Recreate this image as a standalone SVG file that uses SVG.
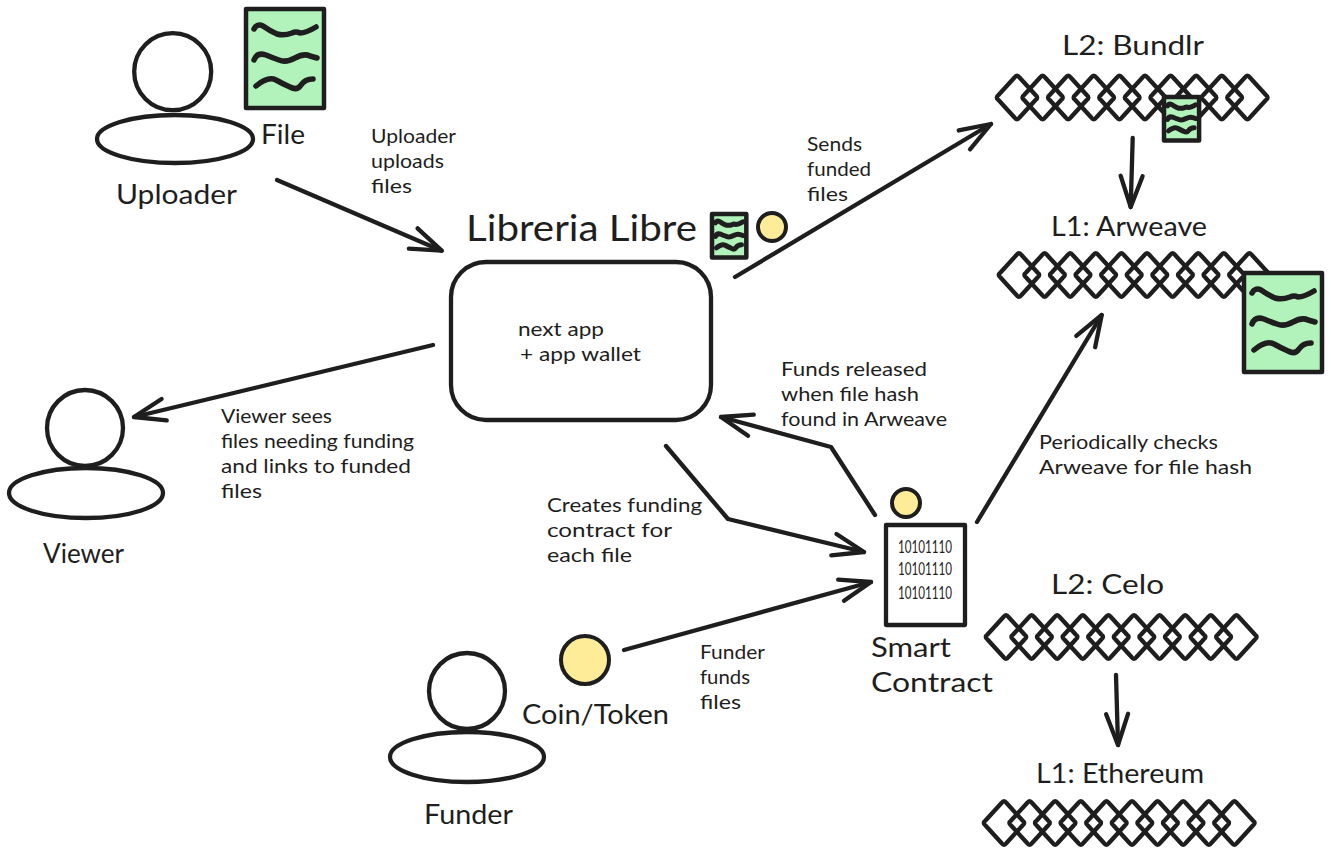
<svg xmlns="http://www.w3.org/2000/svg" width="1331" height="857" viewBox="0 0 1331 857">
<style>
text{font-family:"Lato","Noto Sans",sans-serif;fill:#1e1e1e;transform:translateY(.2px)}
.s{font-size:19px}.m{font-size:27px;transform:translateY(.8px)}.l{font-size:36px}.n{font-size:17px}
.o{fill:none;stroke:#1e1e1e;stroke-width:4.300;stroke-linecap:round;stroke-linejoin:round}
.coin{fill:#ffec99;stroke:#1e1e1e;stroke-width:4}
.page{fill:#b2f2bb;stroke:#1e1e1e;stroke-width:4.500;stroke-linejoin:round;vector-effect:non-scaling-stroke}
.sq{fill:none;stroke:#1e1e1e;stroke-linecap:round;stroke-linejoin:round;vector-effect:non-scaling-stroke}
#connectors path{fill:none;stroke:#1e1e1e;stroke-width:4.300;stroke-linecap:round;stroke-linejoin:round}
</style>
<defs>
<path id="d" class="o" d="M-18.500-2.500 L-2.500-20 Q0-23.500 2.500-20 L18.500-2.500 Q22 0 18.500 2.500 L2.500 20 Q0 23.500-2.500 20 L-18.500 2.500 Q-22 0-18.500-2.500Z"/>
<g id="chain">
<use href="#d" x="0"/><use href="#d" x="25.6"/><use href="#d" x="51.2"/><use href="#d" x="76.8"/><use href="#d" x="102.4"/><use href="#d" x="128"/><use href="#d" x="153.6"/><use href="#d" x="179.2"/><use href="#d" x="204.8"/><use href="#d" x="230.4"/>
</g>
<g id="file">
<rect class="page" width="78" height="99"/>
<path class="sq" d="M8 20Q11 14 17 17Q24 22 31 25Q38 27 46 24Q50 22 54 24Q60 24 70 18"/>
<path class="sq" d="M8 51Q11 43 20 46Q27 49 33 51Q40 54 49 49Q58 44 64 47L71 49"/>
<path class="sq" d="M10 77Q22 67 30 71Q37 75 44 78Q51 82 55 76Q59 70 67 70"/>
</g>
<marker id="head" markerUnits="userSpaceOnUse" markerWidth="40" markerHeight="40" refX="35" refY="20" orient="auto" viewBox="0 0 40 40"><path d="M4 9L35 20L4 31" fill="none" stroke="#1e1e1e" stroke-width="4.300" stroke-linecap="round" stroke-linejoin="round"/></marker>
</defs>

<g id="connectors">
<path marker-end="url(#head)" d="M277 180L441.700 250.700"/>
<path marker-end="url(#head)" d="M735 277L991 124"/>
<path marker-end="url(#head)" d="M1132.700 138L1130.700 207"/>
<path marker-end="url(#head)" d="M977 522L1101.700 315"/>
<path marker-end="url(#head)" d="M433 345L134 417"/>
<path marker-end="url(#head)" d="M875 515L831 447L721 417"/>
<path marker-end="url(#head)" d="M666 446L728 519L864 552"/>
<path marker-end="url(#head)" d="M624 650L871 582"/>
<path marker-end="url(#head)" d="M1116 675L1118 745"/>
</g>

<g id="uploader"><circle class="o" cx="172.700" cy="71.700" r="38.500"/><ellipse class="o" cx="175" cy="139" rx="78" ry="24"/><text class="m" x="116" y="203" textLength="121" lengthAdjust="spacingAndGlyphs">Uploader</text></g>
<g id="file-node"><use href="#file" x="246" y="9" stroke-width="5.500"/><text class="m" x="261" y="143" textLength="44" lengthAdjust="spacingAndGlyphs">File</text></g>
<g id="uploader-label"><text class="s" x="371" y="143" textLength="85" lengthAdjust="spacingAndGlyphs">Uploader</text><text class="s" x="371" y="168" textLength="73" lengthAdjust="spacingAndGlyphs">uploads</text><text class="s" x="371" y="193" textLength="41" lengthAdjust="spacingAndGlyphs">files</text></g>

<g id="libreria"><text class="l" x="466" y="241" textLength="231" lengthAdjust="spacingAndGlyphs">Libreria Libre</text>
<rect class="o" x="451" y="262" width="260" height="158" rx="35"/>
<text class="s" x="518" y="336" textLength="86" lengthAdjust="spacingAndGlyphs">next app</text><text class="s" x="520" y="361" textLength="121" lengthAdjust="spacingAndGlyphs">+ app wallet</text></g>
<g id="libreria-file"><use href="#file" transform="translate(712 214) scale(.44)" stroke-width="5"/></g>
<g id="libreria-coin"><circle class="coin" cx="772" cy="227" r="14"/></g>
<g id="sends-label"><text class="s" x="807" y="151" textLength="55" lengthAdjust="spacingAndGlyphs">Sends</text><text class="s" x="807" y="176" textLength="64" lengthAdjust="spacingAndGlyphs">funded</text><text class="s" x="807" y="201" textLength="41" lengthAdjust="spacingAndGlyphs">files</text></g>

<g id="bundlr"><text class="m" x="1062" y="54" textLength="142" lengthAdjust="spacingAndGlyphs">L2: Bundlr</text><use href="#chain" x="1017" y="97.500"/><use href="#file" transform="translate(1164 97) scale(.45 .44)" stroke-width="5"/></g>
<g id="arweave"><text class="m" x="1051" y="235" textLength="156" lengthAdjust="spacingAndGlyphs">L1: Arweave</text><use href="#chain" x="1019" y="275"/><use href="#file" x="1244" y="273" stroke-width="5.500"/></g>
<g id="celo"><text class="m" x="1051" y="593" textLength="113" lengthAdjust="spacingAndGlyphs">L2: Celo</text><use href="#chain" x="1006" y="637"/></g>
<g id="ethereum"><text class="m" x="1036" y="782" textLength="168" lengthAdjust="spacingAndGlyphs">L1: Ethereum</text><use href="#chain" x="1004" y="823"/></g>

<g id="viewer"><circle class="o" cx="85" cy="428" r="38"/><ellipse class="o" cx="86" cy="493" rx="77" ry="25"/><text class="m" x="43" y="562" textLength="81" lengthAdjust="spacingAndGlyphs">Viewer</text></g>
<g id="viewer-label"><text class="s" x="221" y="423" textLength="111" lengthAdjust="spacingAndGlyphs">Viewer sees</text><text class="s" x="221" y="448" textLength="193" lengthAdjust="spacingAndGlyphs">files needing funding</text><text class="s" x="221" y="473" textLength="190" lengthAdjust="spacingAndGlyphs">and links to funded</text><text class="s" x="221" y="498" textLength="41" lengthAdjust="spacingAndGlyphs">files</text></g>
<g id="release-label"><text class="s" x="781" y="376" textLength="146" lengthAdjust="spacingAndGlyphs">Funds released</text><text class="s" x="781" y="401" textLength="138" lengthAdjust="spacingAndGlyphs">when file hash</text><text class="s" x="781" y="426" textLength="166" lengthAdjust="spacingAndGlyphs">found in Arweave</text></g>
<g id="checks-label"><text class="s" x="1039" y="449" textLength="179" lengthAdjust="spacingAndGlyphs">Periodically checks</text><text class="s" x="1039" y="474" textLength="213" lengthAdjust="spacingAndGlyphs">Arweave for file hash</text></g>
<g id="creates-label"><text class="s" x="547" y="512" textLength="155" lengthAdjust="spacingAndGlyphs">Creates funding</text><text class="s" x="547" y="537" textLength="125" lengthAdjust="spacingAndGlyphs">contract for</text><text class="s" x="547" y="562" textLength="85" lengthAdjust="spacingAndGlyphs">each file</text></g>

<g id="contract-coin"><circle class="coin" cx="906" cy="503" r="14"/></g>
<g id="smart-contract"><rect class="o" x="886" y="525" width="79" height="100"/>
<text class="n" x="898" y="553" textLength="54" lengthAdjust="spacingAndGlyphs">10101110</text><text class="n" x="898" y="575" textLength="54" lengthAdjust="spacingAndGlyphs">10101110</text><text class="n" x="898" y="599" textLength="54" lengthAdjust="spacingAndGlyphs">10101110</text>
<text class="m" x="871" y="656" textLength="80" lengthAdjust="spacingAndGlyphs">Smart</text><text class="m" x="871" y="691" textLength="122" lengthAdjust="spacingAndGlyphs">Contract</text></g>

<g id="funder"><circle class="o" cx="467" cy="691" r="38"/><ellipse class="o" cx="467" cy="757" rx="77" ry="25"/><text class="m" x="424" y="823" textLength="89" lengthAdjust="spacingAndGlyphs">Funder</text></g>
<g id="coin-token"><circle class="coin" cx="585" cy="660" r="24"/><text class="m" x="522" y="723" textLength="147" lengthAdjust="spacingAndGlyphs">Coin/Token</text></g>
<g id="funder-label"><text class="s" x="700" y="659" textLength="65" lengthAdjust="spacingAndGlyphs">Funder</text><text class="s" x="700" y="684" textLength="50" lengthAdjust="spacingAndGlyphs">funds</text><text class="s" x="700" y="709" textLength="41" lengthAdjust="spacingAndGlyphs">files</text></g>
</svg>
